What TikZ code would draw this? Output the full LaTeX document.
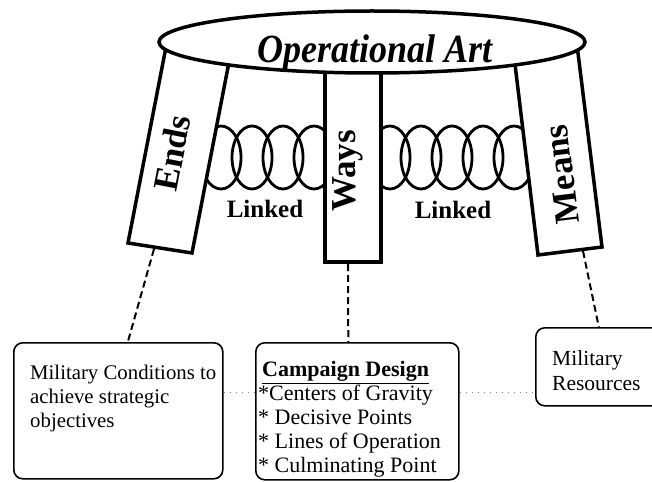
\documentclass[tikz,border=0pt]{standalone}
\usepackage{fontspec}
\setmainfont{Liberation Serif}
\begin{document}
\begin{tikzpicture}[x=1pt,y=-1pt,
  plank/.style={draw, fill=white, line width=3.5pt, line join=miter},
  ring/.style={draw, line width=2.8pt},
  top/.style={draw, fill=white, line width=3.5pt},
  box/.style={draw, rounded corners=9pt, line width=1.6pt, fill=white, inner sep=0pt},
  link/.style={line width=2pt, dash pattern=on 7pt off 4pt},
  dotlink/.style={line width=0.9pt, gray, dash pattern=on 1pt off 5pt},
  lab/.style={font=\fontsize{35}{35}\selectfont\bfseries, inner sep=0pt},
  linked/.style={font=\fontsize{25}{25}\selectfont\bfseries, inner sep=0pt},
  txt/.style={font=\fontsize{21.5}{24}\selectfont, align=left, inner sep=0pt}]
\useasboundingbox (0,0) rectangle (652,481);

% chain rings
\foreach \cx in {221,252,283,314,390,421,452,483,514}
  \draw[ring] (\cx,157.5) ellipse [x radius=20pt, y radius=31.5pt];

% planks
\draw[plank] (128,243) -- (192,253) -- (230,57) -- (166,47) -- cycle;
\draw[plank] (325,262) rectangle (381,55);
\draw[plank] (538,255) -- (602,247) -- (577,45) -- (514,56) -- cycle;

% top ellipse
\draw[top] (372,42) ellipse [x radius=213pt, y radius=31pt];
\node[font=\fontsize{40}{40}\selectfont\bfseries\itshape, xscale=0.9, anchor=base, inner sep=0pt] (title) at (375,63) {Operational Art};

% plank labels
\node[lab, rotate=79, anchor=base] (ends) at (184,155) {Ends};
\node[lab, rotate=90, anchor=base] (ways) at (355,171) {Ways};
\node[lab, rotate=97, anchor=base] (means) at (573,173) {Means};

\node[linked, anchor=base] (link1) at (265,217) {Linked};
\node[linked, anchor=base] (link2) at (453,218) {Linked};

% boxes
\node[box, minimum width=209pt, minimum height=136pt, anchor=north west] (lbox) at (13,342) {};
\node[box, minimum width=203pt, minimum height=137pt, anchor=north west] (mbox) at (255,342) {};
\node[box, minimum width=130pt, minimum height=78pt, anchor=north west] (rbox) at (535,327) {};

% texts (base anchor = last baseline + 0.3 baselineskip)
\node[txt, font=\fontsize{20.8}{24}\selectfont, anchor=base west] (ltxt) at (30,427.2) {Military Conditions to\\achieve strategic\\objectives};
\node[txt, font=\fontsize{22}{24}\selectfont, anchor=base west] (mtxt) at (258,472.6) {\hspace*{4pt}\underline{\textbf{Campaign Design}}\\{}*Centers of Gravity\\{}* Decisive Points\\{}* Lines of Operation\\{}* Culminating Point};
\node[txt, font=\fontsize{21.5}{25}\selectfont, anchor=base west] (rtxt) at (552,390.5) {Military\\Resources};

% connectors
\coordinate (endsbot) at (154,249);
\coordinate (waysbot) at (348,264);
\coordinate (meansbot) at (583,251);
\draw[link] (endsbot) -- ([xshift=9.5pt]lbox.north);
\draw[link] (waysbot) -- ([xshift=-9pt]mbox.north);
\draw[link] (meansbot) -- ([xshift=-2pt]rbox.north);

\draw[dotlink] ([yshift=18pt]lbox.east) -- ([yshift=18.5pt]mbox.west);
\draw[dotlink] ([yshift=18.5pt]mbox.east) -- ([yshift=-26pt]rbox.west);
\end{tikzpicture}
\end{document}
